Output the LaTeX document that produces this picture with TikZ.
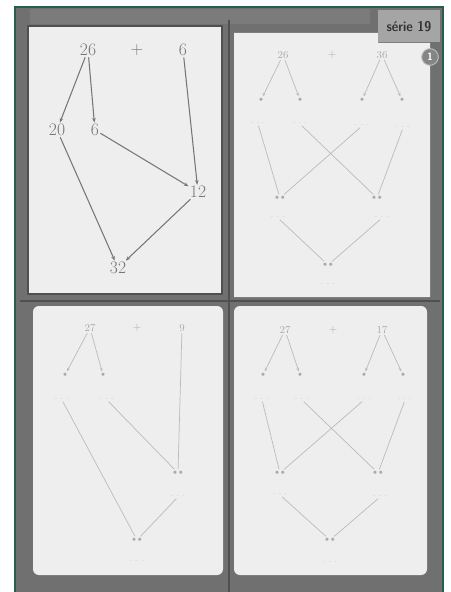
\documentclass[tikz,border=0pt]{standalone}
\usetikzlibrary{arrows.meta}
\definecolor{framegray}{RGB}{112,112,112}
\definecolor{rimgray}{RGB}{80,80,80}
\definecolor{edgegreen}{RGB}{40,92,76}
\definecolor{paper}{RGB}{238,238,238}
\definecolor{ink}{RGB}{118,118,118}
\definecolor{faint}{RGB}{170,170,170}
\definecolor{ghost}{RGB}{212,212,212}
\definecolor{tabgray}{RGB}{165,165,165}
\begin{document}
\begin{tikzpicture}[x=0.03cm,y=-0.03cm,
  big/.style={font=\fontsize{15}{17}\selectfont, text=ink, inner sep=1pt},
  small/.style={font=\fontsize{9}{11}\selectfont, text=faint, inner sep=1pt},
  dot/.style={inner sep=1.5pt, text=faint, font=\fontsize{6}{7}\selectfont},
  pair/.style={inner sep=1.5pt, text=faint, font=\fontsize{6}{7}\selectfont},
  ghostmark/.style={inner sep=0.5pt, text=ghost, font=\fontsize{6}{7}\selectfont},
  darrow/.style={draw=ink, line width=0.9pt, -{Stealth[length=4pt,width=3pt]}},
  farrow/.style={draw=faint!80, line width=0.6pt, -{Stealth[length=3pt,width=2.5pt]}},
  fline/.style={draw=faint!80, line width=0.6pt}
]
\useasboundingbox (0,0) rectangle (450,592);
\fill[white] (0,0) rectangle (450,592);
% frame
\fill[framegray] (15,7) rectangle (443,592);
\fill[framegray!92!white] (30,9) rectangle (370,24);
\draw[edgegreen, line width=1.6pt] (15,592) -- (15,7) -- (443,7) -- (443,592);
% panels
\fill[paper] (28,26) rectangle (222,294);
\draw[rimgray, line width=1.6pt] (28,26) rectangle (222,294);
\draw[rimgray, line width=2.2pt] (229,20) -- (229,592);
\draw[rimgray, line width=1.6pt] (20,301) -- (440,301);
\fill[paper] (234,33) -- (378,33) -- (378,43) -- (430,43) -- (430,297) -- (234,297) -- cycle;
\fill[paper, rounded corners=5pt] (33,306) rectangle (223,575);
\fill[paper, rounded corners=5pt] (234,306) rectangle (427,575);
% tab and badge
\fill[tabgray] (378,10) rectangle (440,42);
\node[font=\sffamily\bfseries\fontsize{12}{13}\selectfont, text=black!80, inner sep=0pt, xscale=0.9] (tab) at (409,27) {série 19};
\node[circle, fill=black!48, draw=black!25, line width=0.8pt, text=white, minimum size=0.5cm, inner sep=0pt, font=\sffamily\bfseries\small] (badge) at (430,57) {1};

% ---------- top-left panel ----------
\node[big] (a1) at (88,50) {26};
\node[big] (p1) at (137,50) {+};
\node[big] (b1) at (183,50) {6};
\node[big] (c1) at (57,130) {20};
\node[big] (d1) at (95,130) {6};
\node[big] (e1) at (198,192) {12};
\node[big] (f1) at (118,268) {32};
\draw[darrow] (a1) -- (c1);
\draw[darrow] (a1) -- (d1);
\draw[darrow] (b1) -- (e1);
\draw[darrow] (d1) -- (e1);
\draw[darrow] (c1) -- (f1);
\draw[darrow] (e1) -- (f1);

% ---------- top-right panel ----------
\node[small] (a2) at (283,55) {26};
\node[small] (p2) at (332,55) {+};
\node[small] (b2) at (382,55) {36};
\node[dot] (g1) at (261,100) {$\bullet$};
\node[dot] (g2) at (300,100) {$\bullet$};
\node[dot] (g3) at (362,100) {$\bullet$};
\node[dot] (g4) at (402,100) {$\bullet$};
\node[ghostmark] (h1) at (258,124) {- - -};
\node[ghostmark] (h2) at (300,124) {- - -};
\node[ghostmark] (h3) at (362,126) {- - -};
\node[ghostmark] (h4) at (403,128) {- - -};
\node[pair] (m1) at (280,198) {$\bullet\,\bullet$};
\node[pair] (m2) at (377,198) {$\bullet\,\bullet$};
\node[ghostmark] (n1) at (278,218) {- - -};
\node[ghostmark] (n2) at (382,218) {- - -};
\node[pair] (q2) at (328,265) {$\bullet\,\bullet$};
\node[ghostmark] (r2) at (328,285) {- - -};
\draw[farrow] (a2) -- (g1);
\draw[farrow] (a2) -- (g2);
\draw[farrow] (b2) -- (g3);
\draw[farrow] (b2) -- (g4);
\draw[fline] (h1) -- (m1);
\draw[fline] (h2) -- (m2);
\draw[fline] (h3) -- (m1);
\draw[fline] (h4) -- (m2);
\draw[fline] (n1) -- (q2);
\draw[fline] (n2) -- (q2);

% ---------- bottom-left panel ----------
\node[small] (a3) at (90,328) {27};
\node[small] (p3) at (137,328) {+};
\node[small] (b3) at (182,328) {9};
\node[dot] (g5) at (65,375) {$\bullet$};
\node[dot] (g6) at (103,375) {$\bullet$};
\node[ghostmark] (h5) at (62,400) {- - -};
\node[ghostmark] (h6) at (107,400) {- - -};
\node[pair] (m3) at (178,473) {$\bullet\,\bullet$};
\node[ghostmark] (n3) at (178,497) {- - -};
\node[pair] (q3) at (137,540) {$\bullet\,\bullet$};
\node[ghostmark] (r3) at (137,562) {- - -};
\draw[farrow] (a3) -- (g5);
\draw[farrow] (a3) -- (g6);
\draw[fline] (b3) -- (m3);
\draw[fline] (h5) -- (q3);
\draw[fline] (h6) -- (m3);
\draw[fline] (n3) -- (q3);

% ---------- bottom-right panel ----------
\node[small] (a4) at (285,330) {27};
\node[small] (p4) at (333,330) {+};
\node[small] (b4) at (382,330) {17};
\node[dot] (g7) at (263,375) {$\bullet$};
\node[dot] (g8) at (300,375) {$\bullet$};
\node[dot] (g9) at (364,375) {$\bullet$};
\node[dot] (g10) at (403,375) {$\bullet$};
\node[ghostmark] (h7) at (262,400) {- - -};
\node[ghostmark] (h8) at (302,400) {- - -};
\node[ghostmark] (h9) at (364,400) {- - -};
\node[ghostmark] (h10) at (405,400) {- - -};
\node[pair] (m4) at (280,473) {$\bullet\,\bullet$};
\node[pair] (m5) at (378,473) {$\bullet\,\bullet$};
\node[ghostmark] (n4) at (280,495) {- - -};
\node[ghostmark] (n5) at (380,497) {- - -};
\node[pair] (q4) at (330,540) {$\bullet\,\bullet$};
\node[ghostmark] (r4) at (330,563) {- - -};
\draw[farrow] (a4) -- (g7);
\draw[farrow] (a4) -- (g8);
\draw[farrow] (b4) -- (g9);
\draw[farrow] (b4) -- (g10);
\draw[fline] (h7) -- (m4);
\draw[fline] (h8) -- (m5);
\draw[fline] (h9) -- (m4);
\draw[fline] (h10) -- (m5);
\draw[fline] (n4) -- (q4);
\draw[fline] (n5) -- (q4);
\end{tikzpicture}
\end{document}
